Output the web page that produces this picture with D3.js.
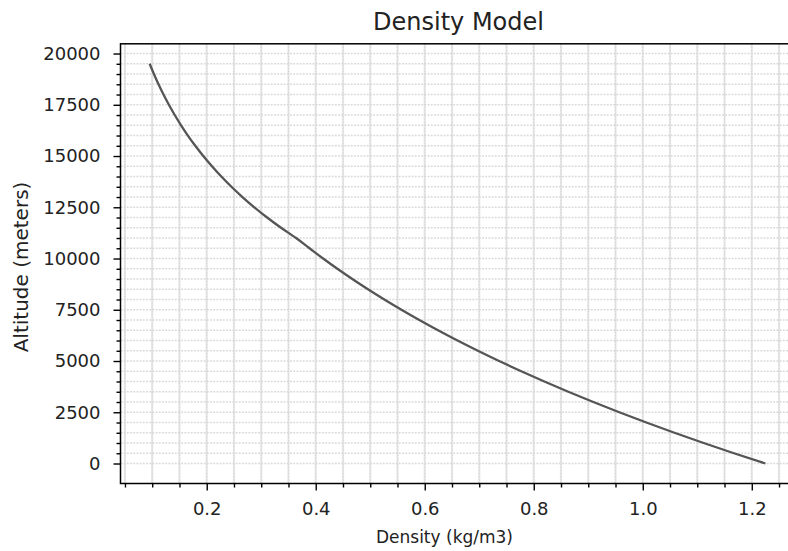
<!DOCTYPE html>
<html>
<head>
<meta charset="utf-8">
<script src="https://cdn.jsdelivr.net/npm/d3@7"></script>
<style>
  html, body { margin: 0; padding: 0; background: #fff; }
  svg { display: block; font-family: "DejaVu Sans", sans-serif; }
</style>
</head>
<body>
<svg id="chart" width="788" height="551"></svg>
<script>
// Altitude (m) and density (kg/m3)
const altitudes = [0, 500, 1000, 1500, 2000, 2500, 3000, 3500, 4000, 4500, 5000, 5500, 6000, 6500, 7000, 7500, 8000, 8500, 9000, 9500,
  10000, 10500, 11000, 11500, 12000, 12500, 13000, 13500, 14000, 14500, 15000, 15500, 16000, 16500, 17000, 17500, 18000, 18500, 19000, 19500];
const densities = [1.2250, 1.1673, 1.1117, 1.0581, 1.0066, 0.9569, 0.9093, 0.8634, 0.8194, 0.7770, 0.7364, 0.6975, 0.6601, 0.6243, 0.5900, 0.5572, 0.5258, 0.4958, 0.4671, 0.4397,
  0.4135, 0.3886, 0.3639, 0.3363, 0.3108, 0.2873, 0.2655, 0.2453, 0.2268, 0.2096, 0.1937, 0.1790, 0.1654, 0.1529, 0.1413, 0.1306, 0.1207, 0.1115, 0.1031, 0.0953];
const xMajorTicks = [0.2, 0.4, 0.6, 0.8, 1.0, 1.2];
const xTickLabels = ["0.2", "0.4", "0.6", "0.8", "1.0", "1.2"];
const yMajorTicks = [0, 2500, 5000, 7500, 10000, 12500, 15000, 17500, 20000];
const titleText = "Density Model";
const xLabelText = "Density (kg/m3)";
const yLabelText = "Altitude (meters)";

(function () {
const svg = d3.select("#chart");
const pL = 120.5, pR = 796.2, pT = 43.8, pB = 483.5;

const x = d3.scaleLinear().domain([0.0418, 1.2815]).range([pL, pR]);
const y = d3.scaleLinear().domain([-975, 20475]).range([pB, pT]);

const xMinor = d3.range(0.05, 1.2816, 0.05).map(v => +v.toFixed(2)).filter(v => v >= 0.0418 && v <= 1.2815);
const yMinor = d3.range(0, 20476, 500);

// grid
const grid = svg.append("g");
grid.selectAll(".vg").data(xMinor).join("line")
  .attr("x1", d => x(d)).attr("x2", d => x(d))
  .attr("y1", pT).attr("y2", pB)
  .attr("stroke", "#e8e8e8").attr("stroke-width", 2.2);
grid.selectAll(".vg2").data(xMinor).join("line")
  .attr("x1", d => x(d)).attr("x2", d => x(d))
  .attr("y1", pT).attr("y2", pB)
  .attr("stroke", "#d4d4d4").attr("stroke-width", 1).attr("stroke-dasharray", "1.5,1.5");
grid.selectAll(".hg").data(yMinor).join("line")
  .attr("x1", pL).attr("x2", pR)
  .attr("y1", d => y(d)).attr("y2", d => y(d))
  .attr("stroke", "#d8d8d8").attr("stroke-width", 1.6).attr("stroke-dasharray", "1.8,1.4");

// line
const pts = altitudes.map((a, i) => [densities[i], a]);
svg.append("path")
  .datum(pts)
  .attr("fill", "none")
  .attr("stroke", "#555555")
  .attr("stroke-width", 2.3)
  .attr("stroke-linejoin", "round")
  .attr("d", d3.line().x(d => x(d[0])).y(d => y(d[1])).curve(d3.curveMonotoneY));

// axes
const xAxis = d3.axisBottom(x).tickValues(xMajorTicks).tickFormat((d, i) => xTickLabels[i]).tickSize(7).tickPadding(11.7);
const xAxisMinor = d3.axisBottom(x).tickValues(xMinor.filter(v => !xMajorTicks.some(m => Math.abs(m - v) < 1e-6))).tickFormat("").tickSize(4);
const yAxis = d3.axisLeft(y).tickValues(yMajorTicks).tickFormat(d3.format("d")).tickSize(7).tickPadding(13);
const yAxisMinor = d3.axisLeft(y).tickValues(yMinor.filter(v => v % 2500 !== 0)).tickFormat("").tickSize(4);

function styleAxis(g) {
  g.select(".domain").remove();
  g.selectAll(".tick line").attr("stroke", "#000").attr("stroke-width", 1.4);
  g.selectAll("text").attr("fill", "#222").style("font-size", "18px").style("font-family", "DejaVu Sans, sans-serif");
}
svg.append("g").attr("transform", `translate(0,${pB})`).call(xAxis).call(styleAxis);
svg.append("g").attr("transform", `translate(0,${pB})`).call(xAxisMinor).call(styleAxis);
svg.append("g").attr("transform", `translate(${pL},0)`).call(yAxis).call(styleAxis);
svg.append("g").attr("transform", `translate(${pL},0)`).call(yAxisMinor).call(styleAxis);

// spines
svg.append("rect").attr("x", pL).attr("y", pT).attr("width", pR - pL).attr("height", pB - pT)
  .attr("fill", "none").attr("stroke", "#000").attr("stroke-width", 1.5);

// titles
svg.append("text").attr("x", 458.5).attr("y", 29.5).attr("text-anchor", "middle")
  .style("font-size", "24px").attr("fill", "#222").text(titleText);
svg.append("text").attr("x", 444.5).attr("y", 543).attr("text-anchor", "middle")
  .style("font-size", "17px").attr("fill", "#222").text(xLabelText);
svg.append("text").attr("transform", `translate(27.5,267) rotate(-90)`).attr("text-anchor", "middle")
  .style("font-size", "20px").attr("fill", "#222").text(yLabelText);
})();
</script>
</body>
</html>
